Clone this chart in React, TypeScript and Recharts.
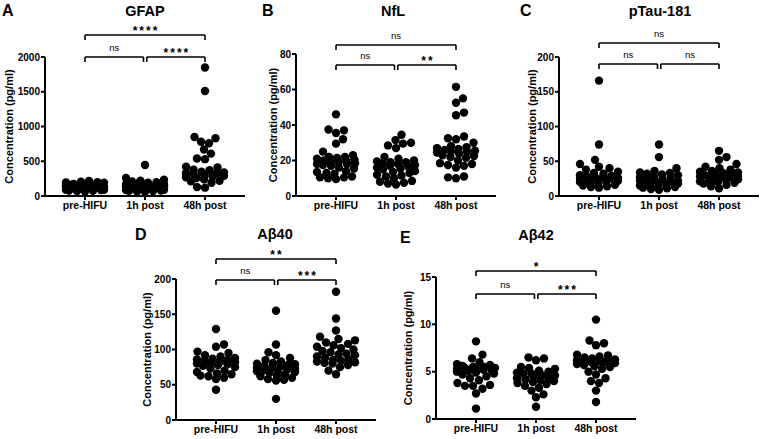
import React from 'react';
import { ScatterChart, Scatter, XAxis, YAxis, ReferenceLine, ReferenceDot } from 'recharts';

const categories = ['pre-HIFU', '1h post', '48h post'];

// GFAP (pg/ml)
const gfapPreHIFU = [215, 205, 200, 195, 190, 180, 175, 170, 160, 150, 145, 140, 135, 130, 125, 120, 118, 115, 110, 105, 100, 98, 95, 90, 88, 85, 80, 75, 70, 65];
const gfap1h = [445, 260, 235, 220, 210, 200, 190, 180, 170, 165, 160, 150, 145, 140, 135, 130, 125, 120, 115, 110, 105, 100, 95, 90, 85, 80, 75, 70, 65, 60];
const gfap48h = [1850, 1510, 850, 830, 780, 760, 670, 610, 540, 530, 420, 410, 380, 370, 350, 340, 330, 325, 315, 300, 290, 280, 270, 260, 240, 220, 210, 190, 130, 120];

// NfL (pg/ml)
const nflPreHIFU = [46, 37.5, 37, 35.5, 32, 29.5, 25, 23, 22, 22, 21.5, 21, 20.5, 20, 19.5, 19, 19, 18.5, 18, 18, 17.5, 17, 16, 15.5, 14, 13.5, 13, 12.5, 11, 10.5, 10.5, 10, 9.5];
const nfl1h = [34.5, 31.5, 30, 29.5, 28.5, 27, 22, 21, 20, 19.5, 19, 19, 18.5, 18, 17.5, 17, 16.5, 16, 15.5, 15, 14, 13.5, 13, 12, 11.5, 11, 10, 8.5, 8, 7.5, 7, 6.5];
const nfl48h = [61.5, 55, 52.5, 47, 45.5, 33.5, 32.5, 32, 30, 28, 27.5, 27, 26.5, 26, 25.5, 25, 25, 24.5, 24, 23, 22.5, 22, 21.5, 20, 18.5, 18, 17.5, 17, 16, 11, 10.5, 10];

// pTau-181 (pg/ml)
const ptauPreHIFU = [166, 74, 52, 46, 42, 40, 38, 35, 33, 32, 30, 29, 28, 27, 27, 26, 25, 25, 24, 23, 22, 21, 20, 19, 18, 16, 15, 14, 13, 12];
const ptau1h = [74, 56, 40, 36, 34, 33, 32, 31, 30, 28, 27, 26, 25, 24, 23, 22, 22, 21, 20, 19, 18, 17, 16, 15, 14, 13, 12, 11, 10, 9];
const ptau48h = [65, 56, 52, 46, 42, 40, 38, 36, 35, 34, 33, 32, 31, 30, 29, 28, 28, 27, 26, 25, 24, 23, 22, 21, 20, 19, 18, 16, 14, 11];

// Abeta40 (pg/ml)
const ab40PreHIFU = [129, 107, 104, 97, 95, 92, 90, 88, 87, 86, 85, 84, 83, 82, 81, 80, 79, 78, 77, 75, 73, 70, 68, 66, 65, 63, 62, 60, 58, 43];
const ab401h = [155, 107, 96, 92, 88, 85, 83, 81, 80, 79, 78, 77, 76, 75, 74, 73, 72, 71, 70, 69, 68, 67, 65, 63, 62, 60, 58, 57, 56, 30];
const ab4048h = [182, 144, 127, 118, 115, 113, 110, 108, 106, 104, 102, 100, 98, 96, 94, 93, 92, 90, 88, 86, 85, 84, 83, 82, 81, 80, 78, 75, 70, 65];

// Abeta42 (pg/ml)
const ab42PreHIFU = [8.2, 6.8, 6.4, 6.0, 5.8, 5.7, 5.6, 5.5, 5.5, 5.4, 5.4, 5.3, 5.3, 5.2, 5.2, 5.1, 5.0, 4.9, 4.8, 4.7, 4.5, 4.3, 4.1, 3.8, 3.6, 3.5, 3.5, 3.2, 2.7, 1.1];
const ab421h = [6.5, 6.4, 6.2, 5.5, 5.4, 5.3, 5.1, 5.0, 4.9, 4.8, 4.8, 4.7, 4.6, 4.5, 4.4, 4.3, 4.2, 4.1, 4.0, 3.9, 3.8, 3.7, 3.5, 3.3, 3.0, 2.6, 2.3, 1.3];
const ab4248h = [10.5, 8.3, 8.0, 7.8, 6.8, 6.7, 6.6, 6.5, 6.4, 6.3, 6.2, 6.2, 6.1, 6.1, 6.0, 6.0, 5.9, 5.8, 5.7, 5.6, 5.5, 5.3, 5.0, 4.7, 4.3, 4.0, 3.8, 3.0, 1.8];

// y ticks
const gfapTicks = [0, 500, 1000, 1500, 2000];
const nflTicks = [0, 20, 40, 60, 80];
const ptauTicks = [0, 50, 100, 150, 200];
const ab40Ticks = [0, 50, 100, 150, 200];
const ab42Ticks = [0, 5, 10, 15];

// significance labels: [pre vs 48h, pre vs 1h, 1h vs 48h]
const gfapSig = ['****', 'ns', '****'];
const nflSig = ['ns', 'ns', '**'];
const ptauSig = ['ns', 'ns', 'ns'];
const ab40Sig = ['**', 'ns', '***'];
const ab42Sig = ['*', 'ns', '***'];

const FONT = '"Liberation Sans", Arial, Helvetica, sans-serif';
const PLOT_W = 200;
const X_DOMAIN: [number, number] = [-2 / 3, 8 / 3];
const PX_PER_UNIT = PLOT_W / (X_DOMAIN[1] - X_DOMAIN[0]);
const DOT_R = 4.2;

type Layout = {
  left: number; top: number; plotH: number; topOff: number; lowOff: number;
  letter: string; letterX: number; letterY: number;
  title: string; titleX: number; titleY: number;
  labelX: number;
};

type PanelDef = { groups: number[][]; yMax: number; yTicks: number[]; sig: string[]; layout: Layout };

const panels: PanelDef[] = [
  { groups: [gfapPreHIFU, gfap1h, gfap48h], yMax: 2000, yTicks: gfapTicks, sig: gfapSig,
    layout: { left: 45, top: 57, plotH: 139, topOff: 22, lowOff: 0, letter: 'A', letterX: 2, letterY: 16, title: 'GFAP', titleX: 145, titleY: 16, labelX: 9 } },
  { groups: [nflPreHIFU, nfl1h, nfl48h], yMax: 80, yTicks: nflTicks, sig: nflSig,
    layout: { left: 296, top: 54, plotH: 142, topOff: 9, lowOff: -11, letter: 'B', letterX: 262, letterY: 16, title: 'NfL', titleX: 393, titleY: 16, labelX: 273 } },
  { groups: [ptauPreHIFU, ptau1h, ptau48h], yMax: 200, yTicks: ptauTicks, sig: ptauSig,
    layout: { left: 559, top: 57, plotH: 139, topOff: 14, lowOff: -7, letter: 'C', letterX: 520, letterY: 16, title: 'pTau-181', titleX: 660, titleY: 16, labelX: 532 } },
  { groups: [ab40PreHIFU, ab401h, ab4048h], yMax: 200, yTicks: ab40Ticks, sig: ab40Sig,
    layout: { left: 176, top: 279, plotH: 141, topOff: 20, lowOff: -1, letter: 'D', letterX: 135, letterY: 240, title: 'Aβ40', titleX: 275, titleY: 239, labelX: 147 } },
  { groups: [ab42PreHIFU, ab421h, ab4248h], yMax: 15, yTicks: ab42Ticks, sig: ab42Sig,
    layout: { left: 436, top: 277, plotH: 142, topOff: 6, lowOff: -17, letter: 'E', letterX: 400, letterY: 243, title: 'Aβ42', titleX: 536, titleY: 240, labelX: 408 } },
];

// beeswarm layout of dot offsets (pixels) so dots do not stack on each other
function swarm(values: number[], yMax: number, plotH: number): number[] {
  const minD = DOT_R * 2 * 0.95;
  const cap = 19;
  const idx = values.map((_, i) => i).sort((a, b) => values[a] - values[b]);
  const placed: { x: number; y: number }[] = [];
  const out = new Array(values.length).fill(0);
  let n = 0;
  for (const i of idx) {
    const y = (values[i] / yMax) * plotH;
    const sign = n % 2 === 0 ? 1 : -1;
    const cands: number[] = [0];
    for (let s = 0.5; s <= cap; s += 0.5) cands.push(sign * s, -sign * s);
    let chosen = 0;
    let bestPen = Infinity;
    for (const c of cands) {
      let pen = 0;
      for (const q of placed) {
        const dx = q.x - c;
        const dy = q.y - y;
        const d = Math.sqrt(dx * dx + dy * dy);
        if (d < minD) pen += minD - d;
      }
      if (pen === 0) { chosen = c; bestPen = 0; break; }
      if (pen < bestPen - 1e-9) { bestPen = pen; chosen = c; }
    }
    placed.push({ x: chosen, y });
    out[i] = chosen;
    n++;
  }
  return out;
}

function median(v: number[]): number {
  const s = [...v].sort((a, b) => a - b);
  const m = Math.floor(s.length / 2);
  return s.length % 2 ? s[m] : (s[m - 1] + s[m]) / 2;
}

const MT = 42;
const YW = 40;
const MR = 10;
const XH = 30;

function Panel({ p }: { p: PanelDef }) {
  const { left, top, plotH, topOff, lowOff } = p.layout;
  const width = YW + PLOT_W + MR;
  const height = MT + plotH + XH;
  const points = p.groups.flatMap((vals, g) => {
    const offs = swarm(vals, p.yMax, plotH);
    return vals.map((v, i) => ({ x: g + offs[i] / PX_PER_UNIT, y: v }));
  });
  const toY = (off: number) => (p.yMax * (plotH + off)) / plotH;
  const tickDrop = 5;
  const brackets = [
    { a: 0, b: 2, off: topOff, label: p.sig[0] },
    { a: 0, b: 0.975, off: lowOff, label: p.sig[1] },
    { a: 1.03, b: 2, off: lowOff, label: p.sig[2] },
  ];
  const lineStyle = { stroke: '#000', strokeWidth: 1.6 };
  const elems: React.ReactNode[] = [];
  brackets.forEach((br, k) => {
    const yb = toY(br.off);
    const ye = toY(br.off - tickDrop);
    elems.push(
      <ReferenceLine key={`h${k}`} segment={[{ x: br.a, y: yb }, { x: br.b, y: yb }]} ifOverflow="visible" {...lineStyle} />,
      <ReferenceLine key={`l${k}`} segment={[{ x: br.a, y: yb }, { x: br.a, y: ye }]} ifOverflow="visible" {...lineStyle} />,
      <ReferenceLine key={`r${k}`} segment={[{ x: br.b, y: yb }, { x: br.b, y: ye }]} ifOverflow="visible" {...lineStyle} />,
    );
    const isStar = br.label !== 'ns';
    elems.push(
      <ReferenceDot
        key={`t${k}`}
        x={(br.a + br.b) / 2}
        y={yb}
        r={0}
        ifOverflow="visible"
        shape={(s: any) => (
          <text
            x={s.cx + (isStar ? 1 : 0)}
            y={s.cy - (isStar ? 0.5 : 6)}
            textAnchor="middle"
            fontFamily={FONT}
            fontSize={isStar ? 12 : 9.5}
            fontWeight={isStar ? 700 : 400}
            letterSpacing={isStar ? 2 : 0}
            fill="#000"
          >
            {br.label}
          </text>
        )}
      />,
    );
  });
  const medians = p.groups.map((vals, g) => {
    const m = median(vals);
    return (
      <ReferenceLine
        key={`m${g}`}
        segment={[{ x: g - 0.33, y: m }, { x: g + 0.33, y: m }]}
        ifOverflow="visible"
        stroke="#808080"
        strokeWidth={1.3}
        strokeDasharray="3 2"
      />
    );
  });
  return (
    <div style={{ position: 'absolute', left: left - YW, top: top - MT }}>
      <ScatterChart width={width} height={height} margin={{ top: MT, right: MR, bottom: 0, left: 0 }}>
        <XAxis
          type="number"
          dataKey="x"
          domain={X_DOMAIN}
          ticks={[0, 1, 2]}
          interval={0}
          allowDataOverflow
          tickFormatter={(v: number) => categories[Math.round(v)]}
          height={XH}
          stroke="#000"
          axisLine={{ stroke: '#000', strokeWidth: 2 }}
          tickLine={{ stroke: '#000', strokeWidth: 2 }}
          tickSize={4}
          tickMargin={2}
          tick={{ fill: '#000', fontSize: 10.5, fontWeight: 700, fontFamily: FONT }}
        />
        <YAxis
          type="number"
          dataKey="y"
          domain={[0, p.yMax]}
          ticks={p.yTicks}
          interval={0}
          allowDataOverflow
          width={YW}
          stroke="#000"
          axisLine={{ stroke: '#000', strokeWidth: 2 }}
          tickLine={{ stroke: '#000', strokeWidth: 2 }}
          tickSize={4}
          tickMargin={1}
          tick={{ fill: '#000', fontSize: 10, fontWeight: 700, fontFamily: FONT }}
        />
        <Scatter
          data={points}
          isAnimationActive={false}
          shape={(s: any) => <circle cx={s.cx} cy={s.cy} r={DOT_R} fill="#000" />}
        />
        {medians}
        {elems}
      </ScatterChart>
    </div>
  );
}

export default function App() {
  return (
    <div style={{ position: 'absolute', left: 0, top: 0, width: 760, height: 439, background: '#fff', overflow: 'hidden' }}>
      {panels.map((p, i) => (
        <Panel key={i} p={p} />
      ))}
      <svg width={760} height={439} style={{ position: 'absolute', left: 0, top: 0, pointerEvents: 'none' }}>
        {panels.map((p, i) => {
          const L = p.layout;
          const cy = L.top + L.plotH / 2;
          return (
            <g key={i} fontFamily={FONT} fontWeight={700} fill="#000">
              <text x={L.letterX} y={L.letterY} fontSize={16}>{L.letter}</text>
              <text x={L.titleX} y={L.titleY} fontSize={14.5} textAnchor="middle">{L.title}</text>
              <text
                x={L.labelX}
                y={cy}
                fontSize={11}
                textAnchor="middle"
                dominantBaseline="central"
                transform={`rotate(-90 ${L.labelX} ${cy})`}
              >
                Concentration (pg/ml)
              </text>
            </g>
          );
        })}
      </svg>
    </div>
  );
}
